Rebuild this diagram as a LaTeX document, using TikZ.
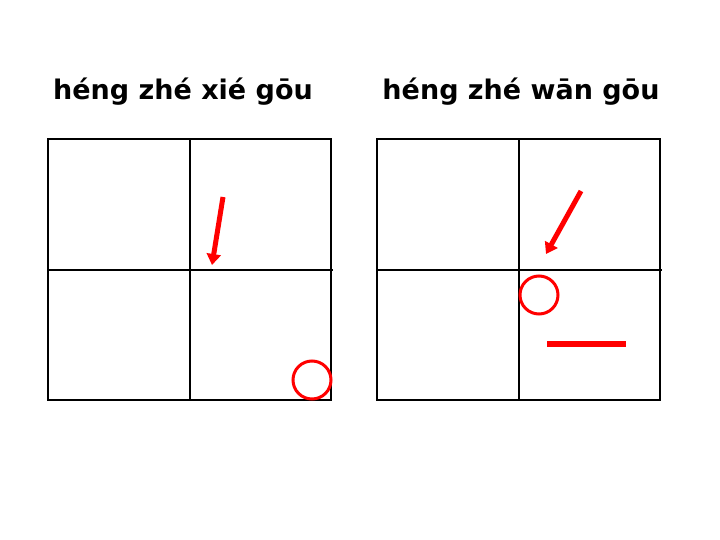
\documentclass[tikz,border=0pt]{standalone}
\usepackage{fontspec}
\setmainfont{DejaVu Sans}
\usetikzlibrary{arrows.meta}

\tikzset{
  frame/.style = {line width=2.6pt},
  midline/.style = {line width=1.2pt},
  stroke/.style = {red, line width=5pt, -{Triangle[length=11pt, width=14pt]}},
  spot/.style = {red, line width=3pt},
  bar/.style = {red, line width=5.5pt},
  title/.style = {font=\bfseries\fontsize{27}{32}\selectfont}
}

\begin{document}
\begin{tikzpicture}[x = 1pt, y = -1pt]
    \useasboundingbox (0,0) rectangle (720,540);
    % titles
    \node[title] (xiegou) at (183,92) {héng zhé xié gōu};
    \node[title] (wangou) at (521,92) {héng zhé wān gōu};
    % left grid
    \draw[frame] (48,139) rectangle (331,400);
    \draw[midline] (190,139) -- (190,401);
    \draw[midline] (48,270) -- (333,270);
    % right grid
    \draw[frame] (377,139) rectangle (660,400);
    \draw[midline] (519,139) -- (519,400);
    \draw[midline] (377,270) -- (662,270);
    % strokes
    \coordinate (a1) at (223,197);
    \coordinate (b1) at (212,265);
    \coordinate (a2) at (581,191);
    \coordinate (b2) at (546,254);
    \coordinate (c1) at (312,380);
    \coordinate (c2) at (539,295);
    \coordinate (d1) at (547,344);
    \coordinate (d2) at (626,344);
    \draw[stroke] (a1) -- (b1);
    \draw[stroke] (a2) -- (b2);
    \draw[spot] (c1) circle[radius=19pt];
    \draw[spot] (c2) circle[radius=19pt];
    \draw[bar] (d1) -- (d2);
\end{tikzpicture}
\end{document}
